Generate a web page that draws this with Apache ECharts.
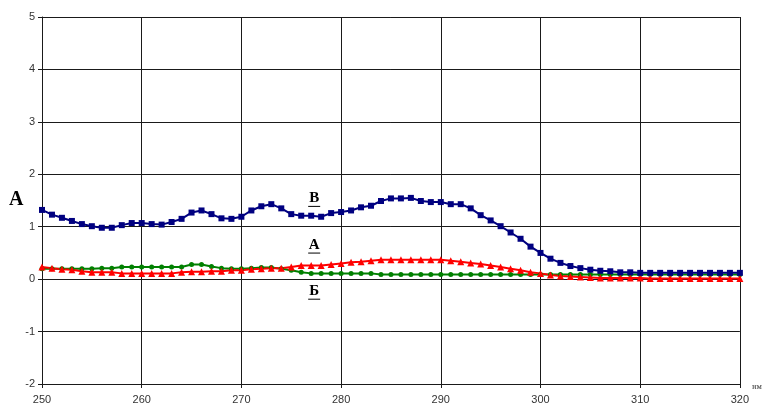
<!DOCTYPE html>
<html><head><meta charset="utf-8">
<script src="https://cdn.jsdelivr.net/npm/echarts@6/dist/echarts.min.js"></script>
<style>html,body{margin:0;padding:0;background:#fff}#c{width:765px;height:405px}</style>
</head><body><div id="c"></div>
<script>
const wavelengths = [];
for (let w = 250; w <= 320; w++) wavelengths.push(w);

const seriesB = [1.32,1.23,1.17,1.11,1.05,1.01,0.98,0.98,1.03,1.07,1.07,1.05,1.04,1.09,1.15,1.27,1.31,1.24,1.16,1.15,1.19,1.31,1.39,1.43,1.35,1.24,1.21,1.21,1.19,1.26,1.28,1.31,1.37,1.40,1.49,1.54,1.54,1.55,1.49,1.47,1.47,1.43,1.43,1.35,1.22,1.12,1.01,0.89,0.77,0.62,0.50,0.39,0.31,0.25,0.21,0.18,0.16,0.15,0.13,0.13,0.12,0.12,0.12,0.12,0.12,0.12,0.12,0.12,0.12,0.12,0.12];
const seriesA = [0.23,0.21,0.19,0.18,0.15,0.13,0.13,0.13,0.11,0.11,0.11,0.11,0.11,0.11,0.13,0.14,0.14,0.15,0.15,0.17,0.17,0.19,0.20,0.21,0.21,0.23,0.26,0.26,0.26,0.28,0.30,0.32,0.33,0.35,0.37,0.37,0.37,0.37,0.37,0.37,0.37,0.35,0.33,0.31,0.29,0.26,0.23,0.20,0.17,0.13,0.11,0.08,0.06,0.05,0.04,0.03,0.02,0.02,0.02,0.02,0.02,0.01,0.01,0.01,0.01,0.01,0.01,0.01,0.01,0.01,0.01];
const seriesBe = [0.20,0.20,0.20,0.20,0.20,0.20,0.21,0.21,0.23,0.23,0.23,0.23,0.23,0.23,0.23,0.28,0.28,0.24,0.21,0.20,0.20,0.21,0.22,0.22,0.20,0.17,0.13,0.11,0.11,0.11,0.11,0.11,0.11,0.11,0.09,0.09,0.09,0.09,0.09,0.09,0.09,0.09,0.09,0.09,0.09,0.09,0.09,0.09,0.09,0.09,0.09,0.09,0.09,0.09,0.09,0.09,0.09,0.09,0.09,0.09,0.09,0.09,0.09,0.09,0.09,0.09,0.09,0.09,0.09,0.09,0.09];
const yTicks = [-2,-1,0,1,2,3,4,5];
const xTicks = [250,260,270,280,290,300,310,320];
const curveLabels = [
  {name: 'В', coord: [277.3, 1.54]},
  {name: 'А', coord: [277.3, 0.65]},
  {name: 'Б', coord: [277.3, -0.23]}
];

function pairs(vals){ return wavelengths.map((w,i)=>[w, vals[i]]); }

const chart = echarts.init(document.getElementById('c'), null, {renderer:'canvas'});
const gridLine = {show:true, lineStyle:{color:'#1a1a1a', width:1}};
const labelFont = {fontFamily:'Liberation Sans, Arial, sans-serif', fontSize:11, color:'#333'};
chart.setOption({
  animation:false,
  backgroundColor:'#fff',
  grid:{left:42, right:23, top:17, bottom:19, containLabel:false},
  xAxis:{type:'value', min:250, max:320, interval:10,
    axisLine:{show:true, onZero:false, lineStyle:{color:'#1a1a1a', width:1}},
    axisTick:{show:true, length:4, lineStyle:{color:'#1a1a1a'}},
    axisLabel:Object.assign({margin:10}, labelFont),
    splitLine:gridLine,
    name:'нм', nameLocation:'end', nameGap:12,
    nameTextStyle:{fontFamily:'DejaVu Serif, serif', fontSize:7, color:'#333', verticalAlign:'top', padding:[0,0,0,0]}
  },
  yAxis:{type:'value', min:-2, max:5, interval:1,
    axisLine:{show:true, onZero:false, lineStyle:{color:'#1a1a1a', width:1}},
    axisTick:{show:true, length:4, lineStyle:{color:'#1a1a1a'}},
    axisLabel:Object.assign({margin:7}, labelFont),
    splitLine:gridLine
  },
  series:[
    {type:'line', data:pairs(seriesBe), symbol:'circle', symbolSize:5,
      lineStyle:{color:'#008000', width:2}, itemStyle:{color:'#008000'}},
    {type:'line', data:pairs(seriesA), symbol:'triangle', symbolSize:7,
      lineStyle:{color:'#ff0000', width:2}, itemStyle:{color:'#ff0000'}},
    {type:'line', data:pairs(seriesB), symbol:'rect', symbolSize:6,
      lineStyle:{color:'#000080', width:2}, itemStyle:{color:'#000080'},
      markPoint:{symbol:'circle', symbolSize:0, silent:true,
        label:{show:true, position:'inside', formatter:'{b}',
          color:'#000', fontFamily:'Liberation Serif, Times New Roman, serif', fontWeight:'bold', fontSize:15,
          textBorderWidth:0},
        data:curveLabels.map(c=>({name:c.name, coord:c.coord}))}
    }
  ]
});
const extra = curveLabels.map(c=>{
  const p = chart.convertToPixel({gridIndex:0}, c.coord);
  return {type:'line', shape:{x1:p[0]-6, y1:p[1]+8, x2:p[0]+6, y2:p[1]+8}, style:{stroke:'#000', lineWidth:1}};
});
chart.setOption({graphic:[{type:'text', left:9, top:190, style:{text:'A', font:'bold 20px "Liberation Serif", "Times New Roman", serif', fill:'#000'}}].concat(extra)});
</script></body></html>
